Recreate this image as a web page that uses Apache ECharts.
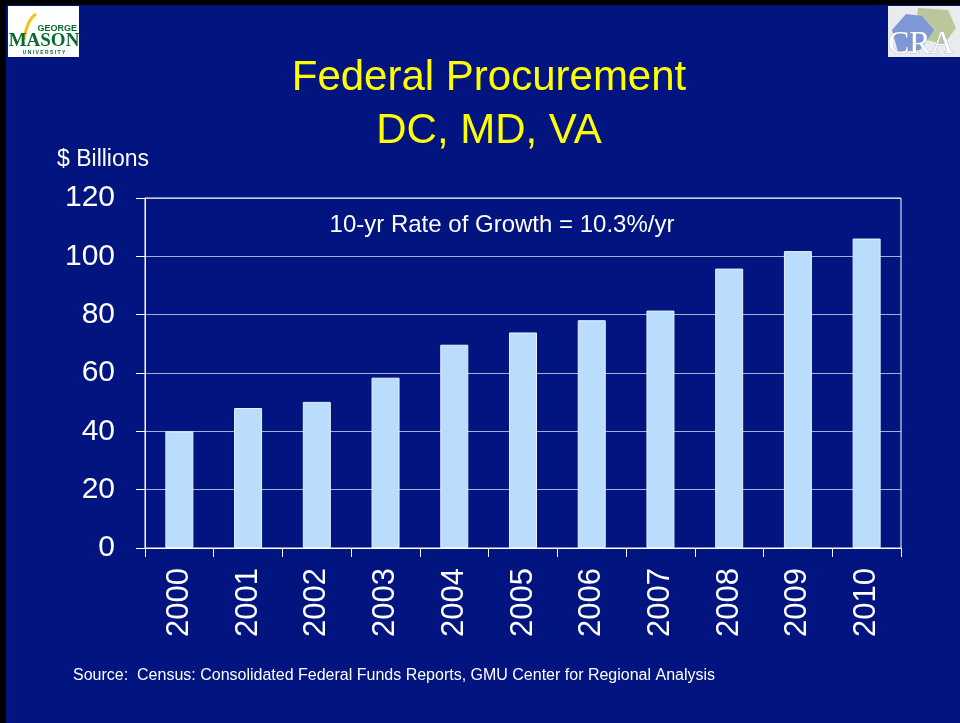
<!DOCTYPE html>
<html>
<head>
<meta charset="utf-8">
<script src="https://cdn.jsdelivr.net/npm/echarts@6/dist/echarts.min.js"></script>
<style>
  html, body { margin: 0; padding: 0; background: #011480; }
  #chart { width: 960px; height: 723px; }
</style>
</head>
<body>
<div id="chart"></div>
<script>
// Data ($ billions)
var years = ["2000", "2001", "2002", "2003", "2004", "2005", "2006", "2007", "2008", "2009", "2010"];
var procurement = [40, 48, 50.1, 58.4, 69.7, 73.9, 78.1, 81.4, 95.8, 101.8, 106.1];
var yTicks = { min: 0, max: 120, interval: 20 };

var titleLines = "Federal Procurement\nDC, MD, VA";
var unitLabel = "$ Billions";
var growthNote = "10-yr Rate of Growth = 10.3%/yr";
var sourceNote = "Source:  Census: Consolidated Federal Funds Reports, GMU Center for Regional Analysis";

var FONT = '"Liberation Sans", Arial, sans-serif';

var chart = echarts.init(document.getElementById("chart"));

chart.setOption({
  backgroundColor: "#011480",
  animation: false,
  title: {
    text: titleLines,
    left: 484,
    top: 47,
    textAlign: "center",
    textStyle: {
      color: "#FFFF00",
      fontFamily: FONT,
      fontWeight: "normal",
      fontSize: 42,
      lineHeight: 53
    }
  },
  grid: {
    left: 145,
    right: 59,
    top: 198,
    bottom: 175,
    show: true,
    borderColor: "#ffffff",
    borderWidth: 1,
    containLabel: false
  },
  xAxis: {
    type: "category",
    data: years,
    axisLine: { lineStyle: { color: "#ffffff", width: 1 } },
    axisTick: { show: true, length: 9, lineStyle: { color: "#ffffff" } },
    axisLabel: {
      rotate: 90,
      margin: 20,
      color: "#ffffff",
      fontFamily: FONT,
      fontSize: 31
    },
    splitLine: { show: false }
  },
  yAxis: {
    type: "value",
    min: yTicks.min,
    max: yTicks.max,
    interval: yTicks.interval,
    axisLine: { show: true, lineStyle: { color: "#ffffff", width: 1 } },
    axisTick: { show: true, length: 9, lineStyle: { color: "#ffffff" } },
    axisLabel: {
      margin: 30,
      color: "#ffffff",
      fontFamily: FONT,
      fontSize: 30
    },
    splitLine: { show: true, lineStyle: { color: "rgba(220,225,240,0.75)", width: 1 } }
  },
  series: [{
    type: "bar",
    data: procurement,
    barWidth: 28,
    itemStyle: {
      color: "#BADDFD",
      borderColor: "#E6F2FF",
      borderWidth: 1
    }
  }],
  graphic: [
    // slide frame
    { type: "rect", shape: { x: 0, y: 0, width: 6, height: 723 }, style: { fill: "#000000" }, silent: true },
    { type: "rect", shape: { x: 0, y: 0, width: 960, height: 5 }, style: { fill: "#000000" }, silent: true },
    // GMU logo
    { type: "rect", shape: { x: 8, y: 6, width: 71, height: 51 }, style: { fill: "#ffffff" }, silent: true },
    { type: "bezierCurve", shape: { x1: 24, y1: 40, x2: 36, y2: 14, cpx1: 26, cpy1: 26, cpx2: 30, cpy2: 18 }, style: { stroke: "#F2C21A", lineWidth: 3, fill: null }, silent: true },
    { type: "text", style: { text: "GEORGE", x: 77, y: 29, fill: "#0B6B2E", font: 'bold 9px ' + FONT, textAlign: "right", textVerticalAlign: "middle" }, silent: true },
    { type: "text", style: { text: "MASON", x: 44, y: 41, fill: "#0B6B2E", font: 'bold 19px "Liberation Serif", serif', textAlign: "center", textVerticalAlign: "middle" }, silent: true },
    { type: "text", style: { text: "U N I V E R S I T Y", x: 44, y: 53, fill: "#0B6B2E", font: 'bold 5px ' + FONT, textAlign: "center", textVerticalAlign: "middle" }, silent: true },
    // CRA logo
    { type: "rect", shape: { x: 888, y: 6, width: 72, height: 51 }, style: { fill: "#E8ECEE" }, silent: true },
    { type: "polygon", shape: { points: [[918, 8], [948, 10], [956, 28], [944, 44], [926, 40], [916, 24]] }, style: { fill: "#B9C79A" }, silent: true },
    { type: "polygon", shape: { points: [[892, 30], [906, 14], [922, 16], [934, 30], [920, 50], [898, 52]] }, style: { fill: "#7E97D6" }, silent: true },
    { type: "text", style: { text: "CRA", x: 888, y: 45, fill: "#ffffff", font: '32px "Liberation Serif", serif', textAlign: "left", textVerticalAlign: "middle", stroke: "#9aa4b8", lineWidth: 0.6 }, silent: true },
    // annotations
    { type: "text", style: { text: unitLabel, x: 57, y: 160, fill: "#ffffff", font: '23px ' + FONT, textAlign: "left", textVerticalAlign: "middle" }, silent: true },
    { type: "text", style: { text: growthNote, x: 502, y: 225, fill: "#ffffff", font: '24px ' + FONT, textAlign: "center", textVerticalAlign: "middle" }, silent: true },
    { type: "text", style: { text: sourceNote, x: 73, y: 676, fill: "#ffffff", font: '16px ' + FONT, textAlign: "left", textVerticalAlign: "middle" }, silent: true }
  ]
});
</script>
</body>
</html>
